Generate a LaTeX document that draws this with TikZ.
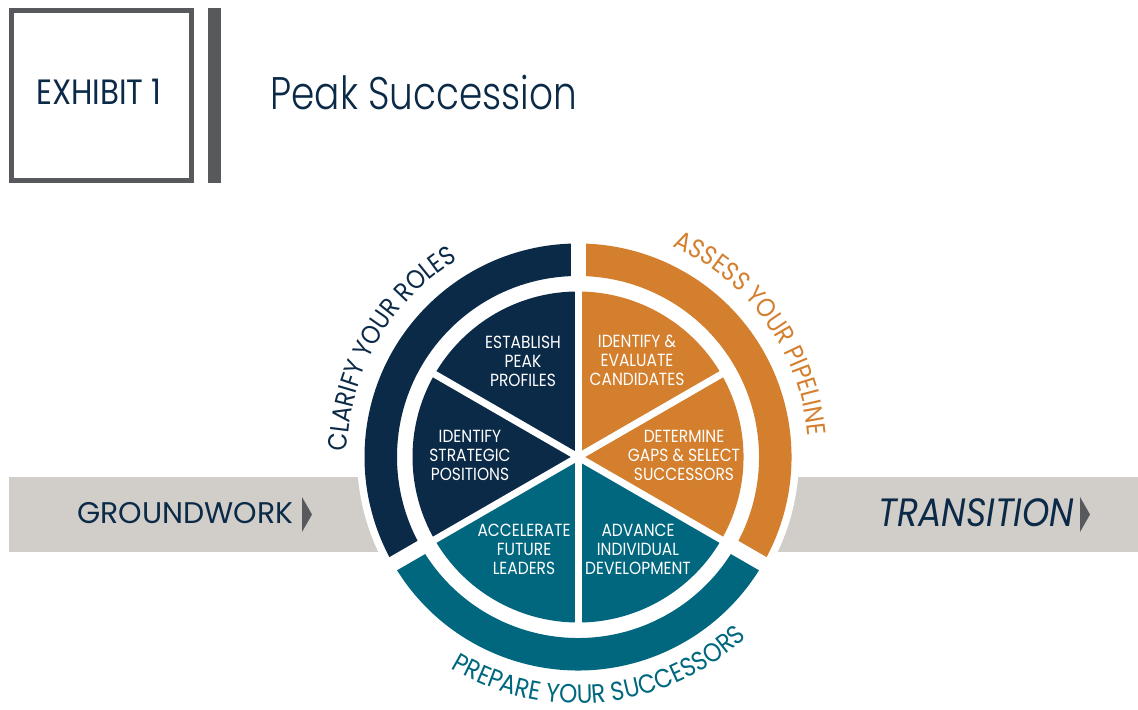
\documentclass[tikz,border=0pt]{standalone}
\usepackage{fontspec}
\setmainfont{Poppins}
\newfontfamily\lightfont{Poppins Light}[FakeStretch=0.82]
\newfontfamily\narrowfont{Poppins}[FakeStretch=0.88]
\usetikzlibrary{decorations.text}

\definecolor{navy}{RGB}{11,42,71}
\definecolor{peakorange}{RGB}{211,127,45}
\definecolor{peakteal}{RGB}{0,103,127}
\definecolor{bandgray}{RGB}{209,206,201}
\definecolor{framegray}{RGB}{88,89,92}

\newcommand\ringfont{\narrowfont\fontsize{15}{18}\selectfont}

\begin{document}
\begin{tikzpicture}[
    slice/.style={text=white, align=center, font=\narrowfont\fontsize{10}{10.8}\selectfont},
    band/.style={text=navy, anchor=base west, inner sep=0pt, font=\fontsize{17}{20}\selectfont}
]
    \useasboundingbox (0,0) rectangle (22.76,14.18);
    \coordinate (c) at (11.56,5.04);

    % heading
    \draw[framegray, line width=0.1cm] (0.23,13.97) rectangle (3.83,10.57);
    \fill[framegray] (4.16,14.02) rectangle (4.42,10.52);
    \node[text=navy, font=\narrowfont\fontsize{20}{24}\selectfont] (exhibit) at (1.98,12.34) {EXHIBIT 1};
    \node[text=navy, anchor=base west, inner sep=0pt, font=\lightfont\fontsize{26}{30}\selectfont] (title) at (5.4,11.98) {Peak Succession};

    % bands behind the wheel
    \fill[bandgray] (0.18,4.64) rectangle (11.56,3.14);
    \fill[bandgray] (11.56,4.64) rectangle (22.76,3.14);
    \node[band] (groundwork) at (1.54,3.70) {GROUNDWORK};
    \node[band, font=\narrowfont\itshape\fontsize{22.5}{26}\selectfont] (transition) at (17.56,3.64) {TRANSITION};
    \fill[framegray] (6.04,4.24) -- (6.24,3.89) -- (6.04,3.54) -- cycle;
    \fill[framegray] (21.60,4.24) -- (21.80,3.89) -- (21.60,3.54) -- cycle;

    % outer ring
    \fill[white] (c) circle (4.42);
    \draw[navy, line width=0.65cm] (c) ++(90:3.945) arc[start angle=90, end angle=210, radius=3.945];
    \draw[peakteal, line width=0.65cm] (c) ++(210:3.945) arc[start angle=210, end angle=330, radius=3.945];
    \draw[peakorange, line width=0.65cm] (c) ++(-30:3.945) arc[start angle=-30, end angle=90, radius=3.945];
    \foreach \a in {90,210,330}
        \draw[white, line width=0.3cm] (c) -- ++(\a:4.5);

    % pie
    \fill[navy] (c) -- ++(90:3.31) arc[start angle=90, end angle=210, radius=3.31] -- cycle;
    \fill[peakteal] (c) -- ++(210:3.31) arc[start angle=210, end angle=330, radius=3.31] -- cycle;
    \fill[peakorange] (c) -- ++(-30:3.31) arc[start angle=-30, end angle=90, radius=3.31] -- cycle;
    \foreach \a in {30,90,...,330}
        \draw[white, line width=0.14cm] (c) -- ++(\a:3.4);

    \node[slice] (establish) at (10.46,6.96) {ESTABLISH\\PEAK\\PROFILES};
    \node[slice] (evaluate) at (12.74,6.98) {IDENTIFY \&\\EVALUATE\\CANDIDATES};
    \node[slice] (strategic) at (9.40,5.08) {IDENTIFY\\STRATEGIC\\POSITIONS};
    \node[slice] (determine) at (13.68,5.08) {DETERMINE\\GAPS \& SELECT\\SUCCESSORS};
    \node[slice] (accelerate) at (10.48,3.20) {ACCELERATE\\FUTURE\\LEADERS};
    \node[slice] (advance) at (12.76,3.20) {ADVANCE\\INDIVIDUAL\\DEVELOPMENT};

    % ring captions
    \path[decorate, decoration={text along path, text align=center, text color=navy,
        text={|\ringfont|CLARIFY YOUR ROLES}}]
        (c) ++(205:4.62) arc[start angle=205, end angle=95, radius=4.62];
    \path[decorate, decoration={text along path, text align=center, text color=peakorange,
        text={|\ringfont|ASSESS YOUR PIPELINE}}]
        (c) ++(90.5:4.62) arc[start angle=90.5, end angle=-19.5, radius=4.62];
    \path[decorate, decoration={text along path, text align=center, text color=peakteal,
        text={|\ringfont|PREPARE YOUR SUCCESSORS}}]
        (c) ++(221:4.93) arc[start angle=221, end angle=331, radius=4.93];
\end{tikzpicture}
\end{document}
